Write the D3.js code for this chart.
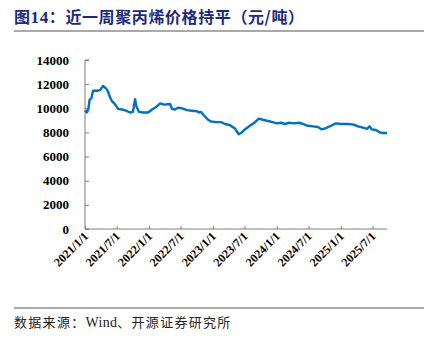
<!DOCTYPE html>
<html>
<head>
<meta charset="utf-8">
<script src="https://cdn.jsdelivr.net/npm/d3@7"></script>
<style>
  html, body { margin: 0; padding: 0; background: #fff; }
  svg { display: block; }
</style>
</head>
<body>
<svg id="chart" width="432" height="339"></svg>
<script>
// Weekly polypropylene price (yuan/ton), sampled points
const dates = [
  "2021-01-01","2021-01-12","2021-01-21","2021-01-27","2021-02-07","2021-02-16",
  "2021-03-11","2021-03-28","2021-04-14","2021-05-01","2021-05-12","2021-05-24",
  "2021-06-04","2021-06-21","2021-07-09","2021-07-31","2021-08-23","2021-09-15",
  "2021-10-02","2021-10-14","2021-10-22","2021-11-06","2021-11-28","2021-12-27",
  "2022-01-19","2022-02-11","2022-03-06","2022-03-28","2022-05-02","2022-05-13",
  "2022-05-30","2022-06-16","2022-07-09","2022-08-07","2022-09-04","2022-10-03",
  "2022-10-14","2022-10-26","2022-11-12","2022-12-05","2022-12-22","2023-01-20",
  "2023-02-17","2023-03-12","2023-04-10","2023-05-09","2023-05-28","2023-06-11",
  "2023-07-03","2023-08-01","2023-08-30","2023-09-21","2023-10-14","2023-11-12",
  "2023-12-10","2024-01-02","2024-01-25","2024-02-17","2024-03-11","2024-04-08",
  "2024-05-07","2024-05-30","2024-06-27","2024-07-26","2024-08-23","2024-09-15",
  "2024-10-08","2024-11-06","2024-12-04","2025-01-02","2025-02-11","2025-03-17",
  "2025-04-09","2025-05-08","2025-05-30","2025-06-14","2025-06-28","2025-07-21",
  "2025-08-13","2025-08-30","2025-09-22"
];
const prices = [
  9800, 9650, 10000, 10700, 10850, 11450,
  11450, 11500, 11850, 11650, 11400, 10900,
  10600, 10350, 9950, 9900, 9800, 9650,
  9700, 10750, 10150, 9700, 9650, 9650,
  9900, 10100, 10400, 10300, 10350, 9950,
  9900, 10050, 10000, 9850, 9800, 9750,
  9650, 9700, 9400, 9050, 8900, 8850,
  8850, 8700, 8600, 8300, 7850, 7950,
  8250, 8550, 8850, 9150, 9050, 8950,
  8850, 8750, 8800, 8700, 8800, 8750,
  8800, 8700, 8550, 8500, 8450, 8250,
  8350, 8550, 8750, 8700, 8700, 8650,
  8500, 8400, 8300, 8500, 8250, 8200,
  8000, 7950, 7950
];
const xTickDates = [
  "2021-01-01","2021-07-01","2022-01-01","2022-07-01","2023-01-01",
  "2023-07-01","2024-01-01","2024-07-01","2025-01-01","2025-07-01"
];
const yTicks = [0, 2000, 4000, 6000, 8000, 10000, 12000, 14000];

const parse = d3.timeParse("%Y-%m-%d");
const series = dates.map((d, i) => ({ date: parse(d), value: prices[i] }));

const svg = d3.select("#chart");
const serif = "'Liberation Serif', 'Times New Roman', serif";
const cjk = "'Noto Sans CJK SC', sans-serif";

// Title and rule
const title = svg.append("text")
  .attr("x", 14).attr("y", 23)
  .attr("font-family", cjk)
  .attr("font-size", 16).attr("font-weight", "bold")
  .attr("letter-spacing", 0.6)
  .attr("fill", "#1c2a7e");
title.append("tspan").text("图");
title.append("tspan").attr("font-family", serif).attr("font-size", 17).text("14");
title.append("tspan").text("：近一周聚丙烯价格持平（元/吨）");
svg.append("line")
  .attr("x1", 14).attr("x2", 424).attr("y1", 31).attr("y2", 31)
  .attr("stroke", "#8c8c8c").attr("stroke-width", 1.5);

// Source rule and note
svg.append("line")
  .attr("x1", 14).attr("x2", 424).attr("y1", 308).attr("y2", 308)
  .attr("stroke", "#555").attr("stroke-width", 1);
const note = svg.append("text")
  .attr("x", 14).attr("y", 327)
  .attr("font-family", cjk)
  .attr("font-size", 13).attr("letter-spacing", 1.3)
  .attr("fill", "#222");
note.append("tspan").text("数据来源：");
note.append("tspan").attr("font-family", serif).attr("font-size", 14).attr("letter-spacing", 0.3).text("Wind");
note.append("tspan").text("、开源证券研究所");

// Scales
const x = d3.scaleTime()
  .domain([parse("2021-01-01"), parse("2025-09-22")])
  .range([85, 387]);
const y = d3.scaleLinear().domain([0, 14000]).range([229, 60]);

// Y axis
const yAxis = svg.append("g")
  .attr("transform", "translate(85,0)")
  .call(d3.axisRight(y).tickValues(yTicks).tickSize(4).tickFormat(""));
yAxis.select(".domain").attr("stroke", "#7f7f7f").attr("d", "M4,60H0V229H4");
yAxis.selectAll(".tick line").attr("stroke", "#7f7f7f");
svg.append("g").selectAll("text")
  .data(yTicks).join("text")
  .attr("x", 69).attr("y", d => y(d) + 4.5)
  .attr("text-anchor", "end")
  .attr("font-family", serif).attr("font-size", 13).attr("font-weight", "bold")
  .attr("fill", "#000")
  .text(d => d);

// X axis
const fmt = d => `${d.getFullYear()}/${d.getMonth() + 1}/${d.getDate()}`;
const xAxis = svg.append("g")
  .attr("transform", "translate(0,229)")
  .call(d3.axisTop(x).tickValues(xTickDates.map(parse)).tickSize(3).tickFormat(""));
xAxis.select(".domain").attr("stroke", "#7f7f7f").attr("d", "M85,0H387");
xAxis.selectAll(".tick line").attr("stroke", "#7f7f7f");
svg.append("g").selectAll("text")
  .data(xTickDates.map(parse)).join("text")
  .attr("transform", d => `translate(${x(d) + 4},${237}) rotate(-45)`)
  .attr("text-anchor", "end")
  .attr("font-family", serif).attr("font-size", 12).attr("font-weight", "bold")
  .attr("fill", "#000")
  .text(fmt);

// Price line
svg.append("path")
  .datum(series)
  .attr("fill", "none")
  .attr("stroke", "#0070c0")
  .attr("stroke-width", 2.4)
  .attr("stroke-linejoin", "round")
  .attr("d", d3.line().x(d => x(d.date)).y(d => y(d.value)));
</script>
</body>
</html>
